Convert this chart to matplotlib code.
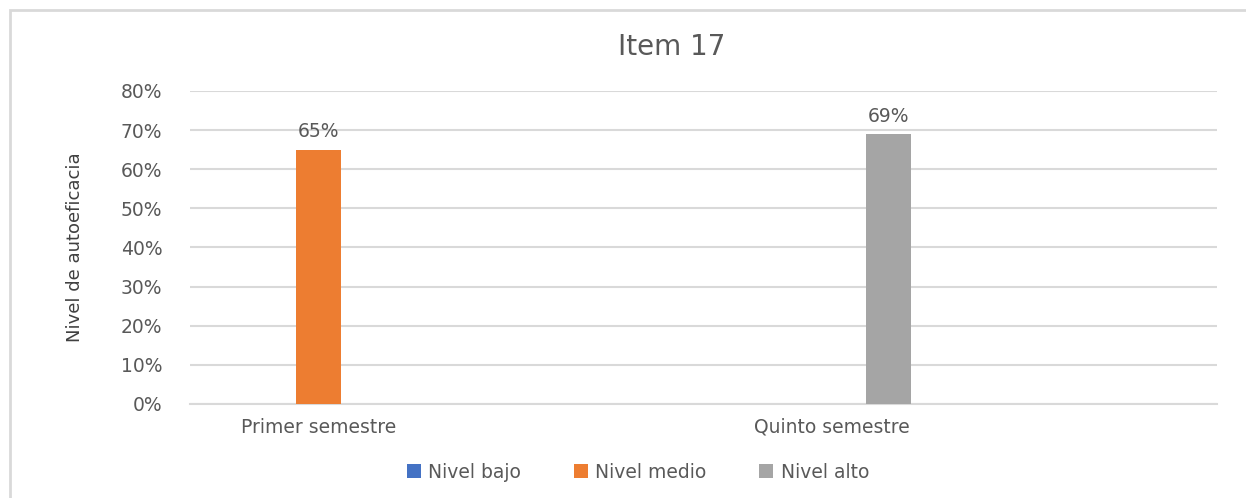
import numpy as np
import matplotlib.pyplot as plt
from matplotlib.patches import Rectangle

# --- data ---
categories = ['Primer semestre', 'Quinto semestre']
series_names = ['Nivel bajo', 'Nivel medio', 'Nivel alto']
nivel_bajo = [0.0, 0.0]
nivel_medio = [0.65, 0.0]
nivel_alto = [0.0, 0.69]
yticks = [0.0, 0.1, 0.2, 0.3, 0.4, 0.5, 0.6, 0.7, 0.8]

colors = ['#4472C4', '#ED7D31', '#A5A5A5']
text_color = '#595959'
grid_color = '#D9D9D9'

fig = plt.figure(figsize=(12.46, 4.98), dpi=100)
ax = fig.add_axes([0.1525, 0.1888, 0.8242, 0.6285])

# chart border (only left/top edges visible in the reference)
fig.patches.append(Rectangle((10 / 1246, -0.1), 1.2, 1 - 10 / 498 + 0.1,
                             transform=fig.transFigure, fill=False,
                             edgecolor=grid_color, lw=2))

centers = np.array([0.25, 1.25])
offsets = [-0.111, 0.0, 0.111]
width = 0.0876

for vals, name, col, off in zip([nivel_bajo, nivel_medio, nivel_alto],
                                series_names, colors, offsets):
    bars = ax.bar(centers + off, vals, width, color=col, label=name, zorder=3)
    labels = [f'{v:.0%}' if v > 0 else '' for v in vals]
    ax.bar_label(bars, labels=labels, padding=6, fontsize=13.5, color=text_color)

ax.set_xlim(0, 2)
ax.set_ylim(0, 0.8)
ax.set_yticks(yticks)
ax.set_yticklabels([f'{t:.0%}' for t in yticks])
ax.set_xticks(centers)
ax.set_xticklabels(categories)
ax.tick_params(axis='y', length=0, pad=20, labelsize=13.5, labelcolor=text_color)
ax.tick_params(axis='x', length=0, pad=10, labelsize=13.5, labelcolor=text_color)
ax.grid(axis='y', color=grid_color, lw=1.5, zorder=0)
for s in ['top', 'right', 'left']:
    ax.spines[s].set_visible(False)
ax.spines['bottom'].set_color(grid_color)
ax.spines['bottom'].set_linewidth(1.5)

fig.text(0.539, 0.905, 'Item 17', ha='center', va='center',
         fontsize=20, color=text_color)
fig.text(0.060, 0.504, 'Nivel de autoeficacia', rotation=90, ha='center',
         va='center', fontsize=13, color='#404040')

fig.legend(loc='center', bbox_to_anchor=(0.512, 0.052), ncol=3, frameon=False,
           fontsize=13.5, labelcolor=text_color, handlelength=0.75,
           handleheight=0.75, handletextpad=0.4, columnspacing=2.8)

fig.savefig('out.png', dpi=100)
